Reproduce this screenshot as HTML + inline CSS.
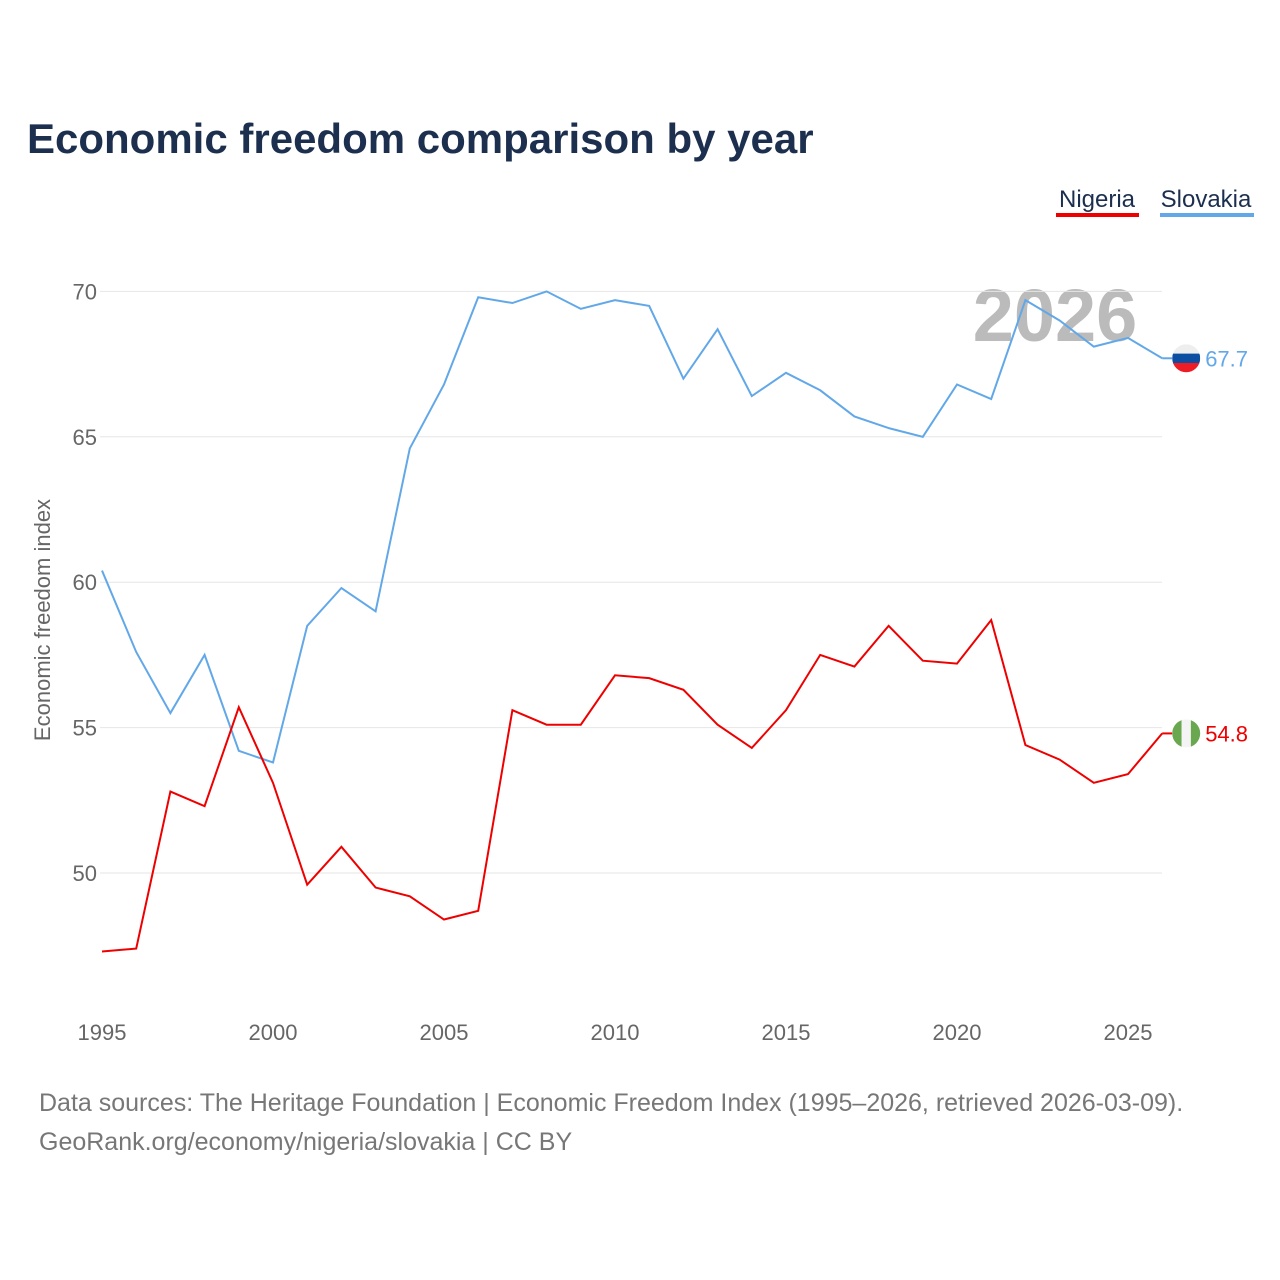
<!DOCTYPE html>
<html><head><meta charset="utf-8"><style>
body{margin:0;background:#fff;}
svg{display:block;font-family:"Liberation Sans",sans-serif;}
</style></head><body>
<svg id="chart" width="1280" height="1280" viewBox="0 0 1280 1280">
<text x="27" y="153" font-size="42" font-weight="bold" fill="#1c2f4f">Economic freedom comparison by year</text>
<g><text x="1097" y="207" font-size="24" fill="#1c2f4f" text-anchor="middle">Nigeria</text><rect x="1056" y="213" width="83" height="4" fill="#ee0000"/></g>
<g><text x="1206" y="207" font-size="24" fill="#1c2f4f" text-anchor="middle">Slovakia</text><rect x="1160" y="213" width="94" height="4" fill="#62a8e8"/></g>
<text x="1055" y="341" font-size="74" font-weight="bold" fill="#bbbbbb" text-anchor="middle">2026</text>
<text transform="translate(50,620) rotate(-90)" font-size="22" fill="#666" text-anchor="middle">Economic freedom index</text>
<defs>
<clipPath id="cs"><circle cx="0" cy="0" r="14"/></clipPath>
</defs>
<g id="grid"></g><g id="lines"></g>
<text x="39" y="1111" font-size="25" fill="#777">Data sources: The Heritage Foundation | Economic Freedom Index (1995–2026, retrieved 2026-03-09).</text>
<text x="39" y="1150" font-size="25" fill="#777">GeoRank.org/economy/nigeria/slovakia | CC BY</text>
</svg>
<script>
const years=[1995,1996,1997,1998,1999,2000,2001,2002,2003,2004,2005,2006,2007,2008,2009,2010,2011,2012,2013,2014,2015,2016,2017,2018,2019,2020,2021,2022,2023,2024,2025,2026];
const slovakia=[60.4,57.6,55.5,57.5,54.2,53.8,58.5,59.8,59.0,64.6,66.8,69.8,69.6,70.0,69.4,69.7,69.5,67.0,68.7,66.4,67.2,66.6,65.7,65.3,65.0,66.8,66.3,69.7,69.0,68.1,68.4,67.7];
const nigeria=[47.3,47.4,52.8,52.3,55.7,53.1,49.6,50.9,49.5,49.2,48.4,48.7,55.6,55.1,55.1,56.8,56.7,56.3,55.1,54.3,55.6,57.5,57.1,58.5,57.3,57.2,58.7,54.4,53.9,53.1,53.4,54.8];
const yTicks=[50,55,60,65,70];
const xTicks=[1995,2000,2005,2010,2015,2020,2025];
const NS="http://www.w3.org/2000/svg";
const x=v=>102+(v-1995)*34.2;
const y=v=>873-(v-50)*29.08;
function mk(t,a,p){const e=document.createElementNS(NS,t);for(const k in a)e.setAttribute(k,a[k]);p.appendChild(e);return e;}
const grid=document.getElementById('grid'),lines=document.getElementById('lines');
yTicks.forEach(v=>{
 const l=mk('line',{x1:100,x2:1162,y1:y(v),y2:y(v),stroke:'#e6e6e6','stroke-width':1},grid);
 
 
 const t=mk('text',{x:97,y:y(v)+8,'font-size':22,fill:'#666','text-anchor':'end'},grid);t.textContent=v;
 
 
});
xTicks.forEach(v=>{
 const t=mk('text',{x:x(v),y:1040,'font-size':22,fill:'#666','text-anchor':'middle'},grid);t.textContent=v;
 
 
});
function series(data,color,name,stripes,vertical){
 const p=mk('polyline',{points:data.map((v,i)=>x(years[i])+','+y(v)).join(' '),fill:'none',stroke:color,'stroke-width':2},lines);
 
 
 const last=data[data.length-1],lx=x(years[years.length-1])+24,ly=y(last);
 mk('line',{x1:lx-24,x2:lx-14,y1:ly,y2:ly,stroke:color,'stroke-width':2},lines);
 const g=mk('g',{transform:'translate('+lx+','+ly+')','clip-path':'url(#cs)'},lines);
 
 
 stripes.forEach((c,i)=>{
  if(vertical) mk('rect',{x:-14+i*28/3,y:-14,width:28/3+0.5,height:28,fill:c},g);
  else mk('rect',{x:-14,y:-14+i*28/3,width:28,height:28/3+0.5,fill:c},g);
 });
 const t=mk('text',{x:lx+19,y:ly+8,'font-size':22,fill:color},lines);t.textContent=last.toFixed(1);
 
 
}
series(slovakia,'#62a8e8','slovakia',['#eeeeee','#0b4ea2','#ee1c25'],false);
series(nigeria,'#ee0000','nigeria',['#6aa84f','#f4f4f4','#6aa84f'],true);
</script>
</body></html>
